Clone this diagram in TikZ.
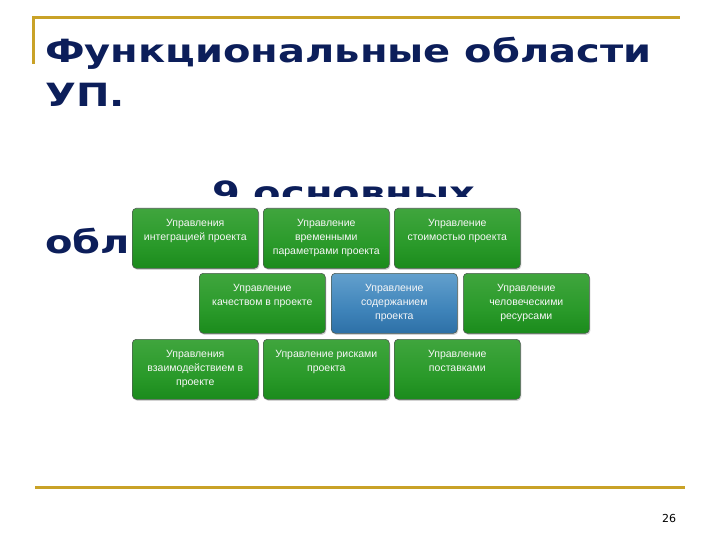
\documentclass[tikz,border=0pt]{standalone}
\usepackage{fontspec}
\setmainfont{DejaVu Sans}
\newfontfamily\titlefont[FakeStretch=1.25]{DejaVu Sans Bold}
\newfontfamily\boxfont{Liberation Sans}
\usetikzlibrary{shadows}
\definecolor{navy}{HTML}{0C1E5A}
\definecolor{gold}{HTML}{C9A227}
\definecolor{gtop}{HTML}{74C26E}
\definecolor{glight}{HTML}{47A944}
\definecolor{gmid}{HTML}{2A9A2A}
\definecolor{gdark}{HTML}{0E7E10}
\definecolor{gbot}{HTML}{2A8F2A}
\definecolor{btop}{HTML}{B2D3EA}
\definecolor{blight}{HTML}{6FA9D3}
\definecolor{bmid}{HTML}{3F84BA}
\definecolor{bdark}{HTML}{1E5F96}
\definecolor{bbot}{HTML}{3475A8}
\definecolor{boxline}{HTML}{4E5C52}
\pgfdeclareverticalshading{greenbox}{100bp}{color(0bp)=(gbot); color(8bp)=(gdark); color(45bp)=(gmid); color(85bp)=(glight); color(100bp)=(gtop)}
\pgfdeclareverticalshading{bluebox}{100bp}{color(0bp)=(bbot); color(8bp)=(bdark); color(45bp)=(bmid); color(85bp)=(blight); color(100bp)=(btop)}
\tikzset{
  titletext/.style={font=\titlefont\fontsize{32}{38}\selectfont, text=navy, inner sep=0pt, anchor=base west},
  gbox/.style={rounded corners=4pt, draw=boxline, line width=0.6pt, minimum width=126pt, minimum height=60pt, inner sep=0pt, shading=greenbox, anchor=north west, drop shadow={shadow xshift=1pt, shadow yshift=-1.5pt, opacity=0.35}},
  bbox/.style={gbox, shading=bluebox},
  boxtext/.style={font=\boxfont\fontsize{10.5}{14}\selectfont, text=white!94!gray, align=center, anchor=north, inner sep=0pt},
  goldline/.style={draw=gold, line width=3pt}
}
\begin{document}
\begin{tikzpicture}[x=1pt,y=-1pt]
\useasboundingbox[fill=white] (0,0) rectangle (720,540);
\coordinate (g1) at (33.5,64);
\coordinate (g2) at (33.5,18);
\coordinate (g3) at (680,18);
\coordinate (g4) at (35,487);
\coordinate (g5) at (685,487);
\draw[goldline] (g1) -- (g2) -- (g3);
\draw[goldline] (g4) -- (g5);
\node[titletext] (t1) at (45,63) {Функциональные области};
\node[titletext] (t2) at (45,107) {УП.};
\node[titletext] (t3) at (212,205) {9 основных};
\node[titletext] (t4) at (45,253) {обл};
\fill[white] (126,197) rectangle (597,405);
% row 1
\node[gbox] (b1) at (132,208) {};
\node[gbox] (b2) at (263,208) {};
\node[gbox] (b3) at (394,208) {};
% row 2
\node[gbox] (b4) at (199,273) {};
\node[bbox] (b5) at (331,273) {};
\node[gbox] (b6) at (463,273) {};
% row 3
\node[gbox] (b7) at (132,339) {};
\node[gbox] (b8) at (263,339) {};
\node[gbox] (b9) at (394,339) {};
\node[boxtext] (l1) at ([yshift=-11pt]b1.north) {Управления\\интеграцией проекта};
\node[boxtext] (l2) at ([yshift=-11pt]b2.north) {Управление\\временными\\параметрами проекта};
\node[boxtext] (l3) at ([yshift=-11pt]b3.north) {Управление\\стоимостью проекта};
\node[boxtext] (l4) at ([yshift=-11pt]b4.north) {Управление\\качеством в проекте};
\node[boxtext] (l5) at ([yshift=-11pt]b5.north) {Управление\\содержанием\\проекта};
\node[boxtext] (l6) at ([yshift=-11pt]b6.north) {Управление\\человеческими\\ресурсами};
\node[boxtext] (l7) at ([yshift=-11pt]b7.north) {Управления\\взаимодействием в\\проекте};
\node[boxtext] (l8) at ([yshift=-11pt]b8.north) {Управление рисками\\проекта};
\node[boxtext] (l9) at ([yshift=-11pt]b9.north) {Управление\\поставками};
\node[font=\fontsize{11}{13}\selectfont, text=black, inner sep=0pt] (pg) at (669,518) {26};
\end{tikzpicture}
\end{document}
